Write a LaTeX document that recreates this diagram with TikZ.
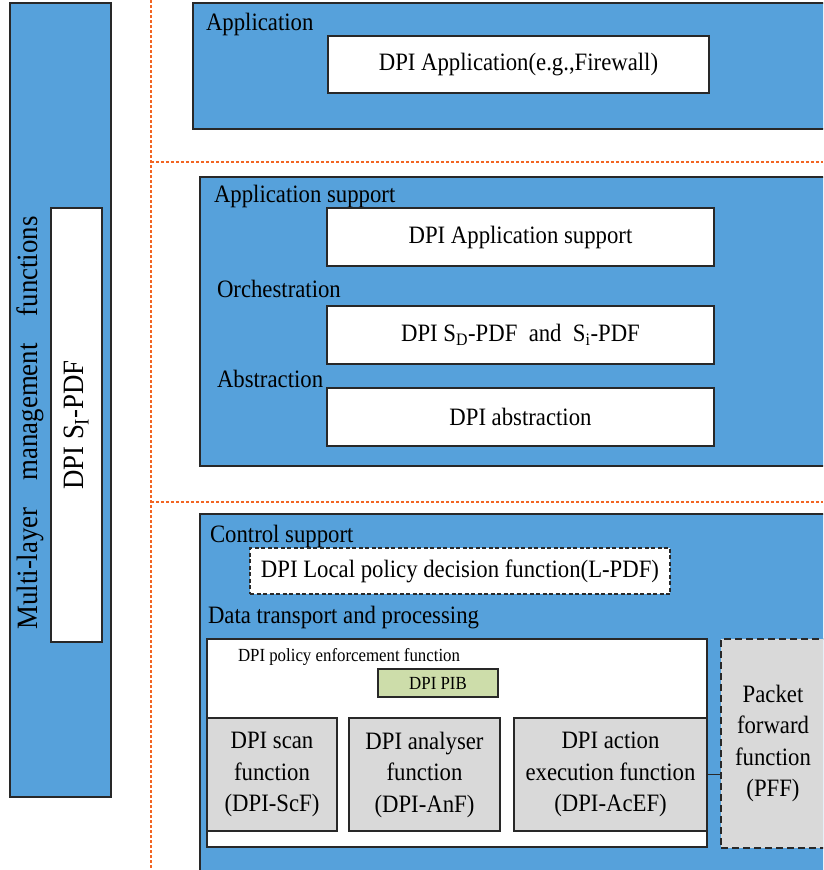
\documentclass[tikz,border=0pt]{standalone}
\usepackage{fontspec}
\setmainfont{Liberation Serif}[FakeStretch=0.91]
\usepackage{tikz}
\usetikzlibrary{positioning}
\definecolor{layerblue}{RGB}{86,161,219}
\definecolor{boxgray}{RGB}{217,217,217}
\definecolor{pibgreen}{RGB}{205,221,170}
\definecolor{sepred}{RGB}{242,101,34}
\definecolor{edgegray}{RGB}{40,40,40}
\newcommand{\fsmain}{\fontsize{25}{31.5}\selectfont}
\newcommand{\fssmall}{\fontsize{18.5}{20}\selectfont}
\newcommand{\fsside}{\fontsize{29.5}{30}\selectfont}

\begin{document}
\begin{tikzpicture}[x=1pt,y=-1pt,every node/.style={inner sep=0pt,outer sep=0pt},
  layer/.style={draw=edgegray,line width=2.6pt,fill=layerblue},
  func/.style={draw=edgegray,line width=2.6pt,fill=white,font=\fsmain},
  unit/.style={draw=edgegray,line width=2.6pt,fill=boxgray,font=\fsmain,align=center,minimum height=113},
  lbl/.style={anchor=base west,font=\fsmain},
  sep/.style={draw=sepred,line width=1.1pt,dash pattern=on 3pt off 2pt}]
\useasboundingbox (0,0) rectangle (823,870);
\clip (0,0) rectangle (823,870);
\draw[sep] (151,0) -- (151,870);
\draw[sep] (151,162) -- (823,162);
\draw[sep] (151,502) -- (823,502);
% management column
\node[layer,minimum width=101,minimum height=794] (mgmt) at (60.5,400) {};
\node[rotate=90,font=\fsside] (mgmtname) at (30,423) {Multi-layer\hspace{27pt}management\hspace{27pt}functions};
\node[func,font=\fsside,rotate=90,minimum width=434,minimum height=51] (sipdf) at (76.5,425) {DPI S\textsubscript{I}-PDF};
% application
\node[layer,minimum width=637,minimum height=126] (applayer) at (511.5,66) {};
\node[lbl] (appname) at (206,30) {Application};
\node[func,minimum width=381,minimum height=57] (dpiapp) at (518.5,64.5) {DPI Application(e.g.,Firewall)};
% application support
\node[layer,minimum width=630,minimum height=289] (suplayer) at (515,321.5) {};
\node[lbl] (supname) at (214,202) {Application support};
\node[func,minimum width=387,minimum height=58] (dpisup) at (520.5,237) {DPI Application support};
\node[lbl] (orchname) at (217,297) {Orchestration};
\node[func,minimum width=387,minimum height=58] (dpipdf) at (520.5,335) {DPI S\textsubscript{D}-PDF\ \ and\ \ S\textsubscript{i}-PDF};
\node[lbl] (absname) at (217,387) {Abstraction};
\node[func,minimum width=387,minimum height=58] (dpiabs) at (520.5,417) {DPI abstraction};
% control and data
\node[layer,minimum width=630,minimum height=366] (ctrllayer) at (515,697) {};
\node[lbl] (ctrlname) at (210,542) {Control support};
\node[func,dash pattern=on 4pt off 2.5pt,minimum width=420,minimum height=46] (lpdf) at (460,571) {DPI Local policy decision function(L-PDF)};
\node[lbl] (dataname) at (208,623) {Data transport and processing};
\node[func,minimum width=500,minimum height=208] (pef) at (457,743) {};
\node[anchor=base west,font=\fssmall] (pefname) at (238,661) {DPI policy enforcement function};
\node[draw=edgegray,line width=2.6pt,fill=pibgreen,font=\fssmall,minimum width=120,minimum height=28] (pib) at (438,683) {DPI PIB};
\node[unit,minimum width=130] (scan) at (272,774.5) {DPI scan\\function\\(DPI-ScF)};
\node[unit,minimum width=151,right=12 of scan] (anf) {DPI analyser\\function\\(DPI-AnF)};
\node[unit,minimum width=193,right=14 of anf] (acef) {DPI action\\execution function\\(DPI-AcEF)};
\node[unit,dash pattern=on 7pt off 4pt,minimum width=104,minimum height=209] (pff) at (773,743.5) {Packet\\forward\\function\\(PFF)};
\draw[edgegray,line width=1pt] (acef.east) -- (acef.east -| pff.west);
\end{tikzpicture}
\end{document}
